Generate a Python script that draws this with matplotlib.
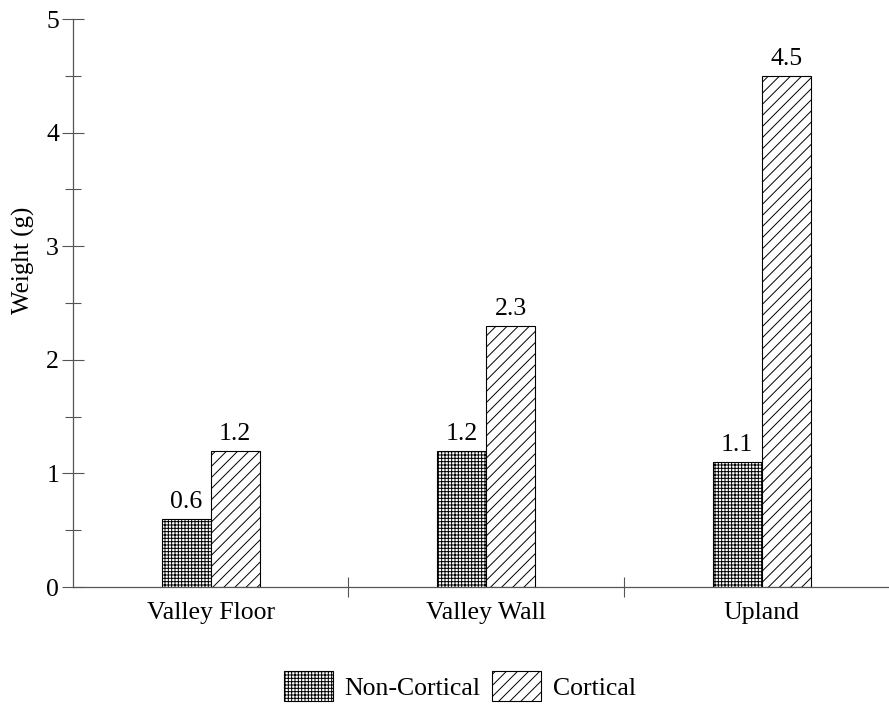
import matplotlib
matplotlib.use("Agg")
import matplotlib.pyplot as plt
from matplotlib.patches import Patch
from matplotlib.ticker import MultipleLocator
import numpy as np

plt.rcParams["font.family"] = ["Liberation Serif", "DejaVu Serif"]
plt.rcParams["hatch.linewidth"] = 0.7

# --- data ---
categories = ["Valley Floor", "Valley Wall", "Upland"]
non_cortical = [0.6, 1.2, 1.1]
cortical = [1.2, 2.3, 4.5]
series_names = ["Non-Cortical", "Cortical"]

AXIS = "#555555"
FS = 18.5

fig = plt.figure(figsize=(8.89, 7.12), dpi=100)
ax = fig.add_axes([73 / 889, 125 / 712, 816 / 889, 568 / 712])

x = np.arange(len(categories))
w = 0.178
b1 = ax.bar(x - w / 2, non_cortical, w, facecolor="white", edgecolor="black",
            hatch="+++++", lw=0.8)
b2 = ax.bar(x + w / 2, cortical, w, facecolor="white", edgecolor="black",
            hatch="///", lw=0.8)

for bars, vals in [(b1, non_cortical), (b2, cortical)]:
    for r, v in zip(bars, vals):
        ax.annotate(f"{v:.1f}", (r.get_x() + r.get_width() / 2, v),
                    xytext=(0, 4), textcoords="offset points",
                    ha="center", va="bottom", fontsize=FS)

ax.set_xlim(-0.5, 2.462)
ax.set_ylim(0, 5)

# y axis: crossing ticks, minor at halves
ax.yaxis.set_major_locator(MultipleLocator(1))
ax.yaxis.set_minor_locator(MultipleLocator(0.5))
ax.tick_params(axis="y", which="major", direction="inout", length=16,
               width=0.8, color=AXIS, labelsize=FS, pad=2)
ax.tick_params(axis="y", which="minor", direction="inout", length=11,
               width=0.8, color=AXIS)

# x axis: separator ticks between groups, labels at group centres
ax.set_xticks([0.5, 1.5])
ax.set_xticklabels([])
ax.set_xticks(x, minor=True)
ax.set_xticklabels(categories, minor=True)
ax.tick_params(axis="x", which="major", direction="inout", length=14,
               width=0.8, color=AXIS)
ax.tick_params(axis="x", which="minor", length=0, labelsize=FS, pad=10.5)

for s in ["top", "right"]:
    ax.spines[s].set_visible(False)
for s in ["left", "bottom"]:
    ax.spines[s].set_color(AXIS)
    ax.spines[s].set_linewidth(0.9)

ax.set_ylabel("Weight (g)", fontsize=18)
ax.yaxis.set_label_coords(-0.047, 0.576)

handles = [Patch(facecolor="white", edgecolor="black", hatch="+++++", lw=0.8),
           Patch(facecolor="white", edgecolor="black", hatch="///", lw=0.8)]
fig.legend(handles, series_names, loc="center", bbox_to_anchor=(460 / 889, 1 - 686 / 712),
           ncol=2, frameon=False, fontsize=FS, handlelength=1.9,
           handleheight=1.45, handletextpad=0.45, columnspacing=0.45)

fig.savefig("out.png", dpi=100, facecolor="white")
